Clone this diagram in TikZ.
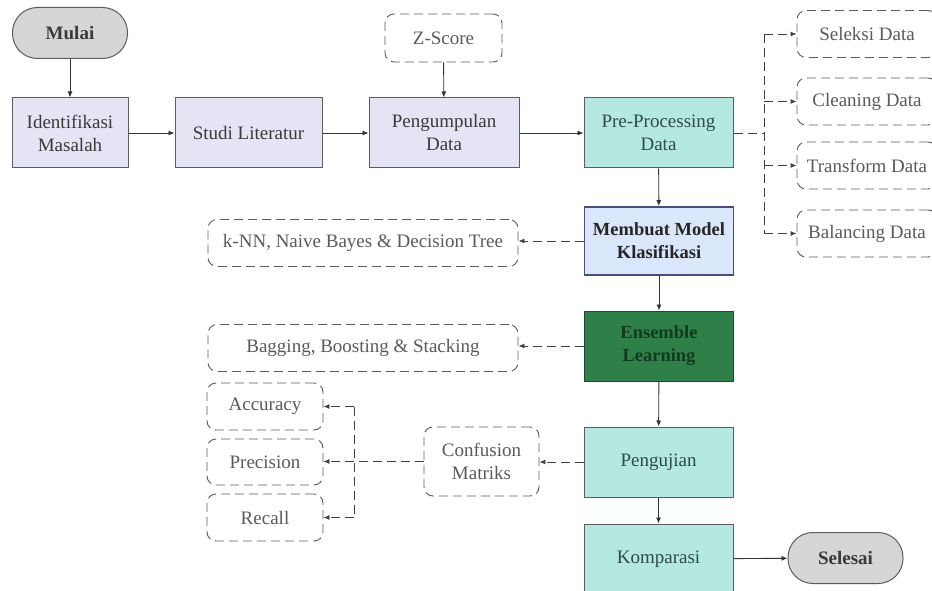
\documentclass[tikz,border=0pt]{standalone}
\usepackage{fontspec}
\setmainfont{LiberationSerif}[Extension=.ttf, UprightFont=*-Regular, BoldFont=*-Bold, ItalicFont=*-Italic, BoldItalicFont=*-BoldItalic]
\usetikzlibrary{arrows.meta}
\definecolor{graybox}{HTML}{D6D6D6}
\definecolor{lav}{HTML}{E4E4F4}
\definecolor{aqua}{HTML}{B4E8E0}
\definecolor{lblue}{HTML}{DAE6FA}
\definecolor{dgreen}{HTML}{2F8048}
\definecolor{txt}{HTML}{3A3A3A}
\definecolor{ptxt}{HTML}{2E4C4A}
\definecolor{dtxt}{HTML}{5A5A5A}
\definecolor{edge}{HTML}{5C5C5C}
\definecolor{etxt}{HTML}{123A1E}
\begin{document}
\begin{tikzpicture}[x=1pt,y=-1pt,
  every node/.style={font=\fontsize{19}{23}\selectfont, align=center, inner sep=2pt},
  term/.style={draw=edge, line width=1pt, fill=graybox, rounded corners=25pt, minimum width=115pt, minimum height=51pt, font=\fontsize{19}{23}\selectfont\bfseries, text=txt},
  proc/.style={draw=edge, line width=1pt, fill=lav, minimum height=70pt, text=txt},
  teal/.style={draw=edge, line width=1pt, fill=aqua, minimum width=149pt, minimum height=70pt, text=ptxt},
  dbox/.style={draw=edge, line width=0.9pt, dash pattern=on 9pt off 5pt, rounded corners=9pt, text=dtxt, minimum height=47pt},
  arr/.style={draw=black!80, line width=0.9pt, -{Latex[length=6pt,width=5pt]}},
  darr/.style={draw=black!75, line width=0.9pt, dash pattern=on 9pt off 5pt, -{Latex[length=6pt,width=5pt]}},
  dln/.style={draw=black!75, line width=0.9pt, dash pattern=on 9pt off 5pt}
]
\useasboundingbox (0,0) rectangle (932,591);
\clip (0,0) rectangle (932,591);
\fill[white] (0,0) rectangle (932,591);

% top row
\node[term] (mulai) at (70,33) {Mulai};
\node[proc, minimum width=116pt] (ident) at (70,133) {Identifikasi\\Masalah};
\node[proc, minimum width=147pt] (studi) at (248.5,133) {Studi Literatur};
\node[proc, minimum width=150pt] (kumpul) at (444,133) {Pengumpulan\\Data};
\node[dbox, minimum width=117pt, minimum height=48pt] (zscore) at (443.5,38) {Z-Score};
\node[teal] (pre) at (658.5,133) {Pre-Processing\\Data};

% right column of pre-processing steps
\node[dbox, minimum width=140pt] (sel) at (867,34) {Seleksi Data};
\node[dbox, minimum width=140pt] (clean) at (867,101.5) {Cleaning Data};
\node[dbox, minimum width=140pt] (trans) at (867,165.5) {Transform Data};
\node[dbox, minimum width=140pt] (bal) at (867,233.5) {Balancing Data};
\coordinate (j) at (764,133);

% middle column
\node[draw=black!55!blue!40!gray, line width=1.8pt, fill=lblue, minimum width=149pt, minimum height=68pt, font=\fontsize{18.5}{23}\selectfont\bfseries, text=black!85] (model) at (659,241) {Membuat Model\\Klasifikasi};
\node[dbox, minimum width=310pt] (knn) at (363,243) {k-NN, Naive Bayes \& Decision Tree};
\node[draw=black!40!dgreen, line width=1pt, fill=dgreen, minimum width=149pt, minimum height=70pt, font=\fontsize{18.5}{23}\selectfont\bfseries, text=etxt] (ens) at (659,346) {Ensemble\\Learning};
\node[dbox, minimum width=310pt] (bag) at (363,348) {Bagging, Boosting \& Stacking};
\node[teal] (uji) at (658.5,462) {Pengujian};
\node[teal] (komp) at (658.5,559) {Komparasi};
\node[term] (selesai) at (845.5,558) {Selesai};

% evaluation
\node[dbox, minimum width=115pt, minimum height=69pt] (conf) at (481.5,461.5) {Confusion\\Matriks};
\node[dbox, minimum width=116pt] (acc) at (265,406.5) {Accuracy};
\node[dbox, minimum width=116pt, minimum height=46pt] (prec) at (265,462) {Precision};
\node[dbox, minimum width=116pt] (rec) at (265,517.5) {Recall};
\coordinate (v) at (354,462);

% solid connectors
\draw[arr] (mulai) -- (ident);
\draw[arr] (ident) -- (studi);
\draw[arr] (studi) -- (kumpul);
\draw[arr] (zscore) -- (kumpul);
\draw[arr] (kumpul) -- (pre);
\draw[arr] (pre) -- (model);
\draw[arr] (model) -- (ens);
\draw[arr] (ens) -- (uji);
\draw[arr] (uji) -- (komp);
\draw[arr] (komp) -- (selesai);

% dashed connectors (pre-processing)
\draw[dln] (pre.east) -- (j);
\draw[dln] (j |- sel.west) -- (j |- bal.west);
\draw[darr] (j |- sel.west) -- (sel.west);
\draw[darr] (j |- clean.west) -- (clean.west);
\draw[darr] (j |- trans.west) -- (trans.west);
\draw[darr] (j |- bal.west) -- (bal.west);

% dashed connectors (methods)
\draw[darr] (model.west) -- (model.west -| knn.east);
\draw[darr] (ens.west) -- (ens.west -| bag.east);
\draw[darr] (uji.west) -- (uji.west -| conf.east);
\draw[darr] (conf.west) -- (conf.west -| prec.east);
\draw[dln] (v |- acc.east) -- (v |- rec.east);
\draw[darr] (v |- acc.east) -- (acc.east);
\draw[darr] (v |- rec.east) -- (rec.east);
\end{tikzpicture}
\end{document}
